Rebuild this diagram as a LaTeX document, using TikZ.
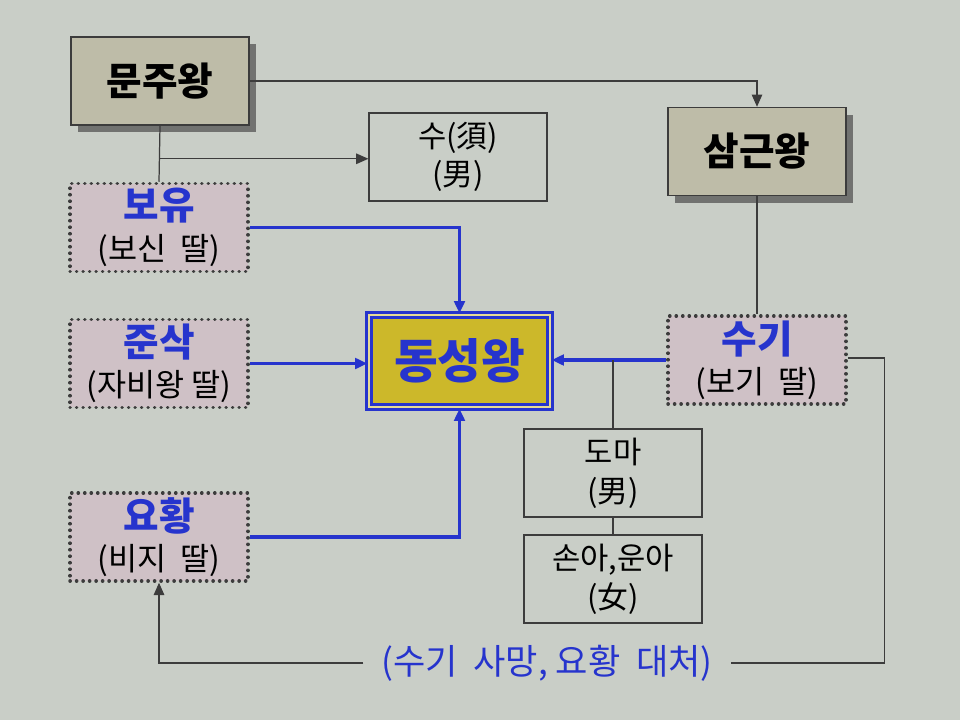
\documentclass[tikz,border=0pt]{standalone}
\usepackage{fontspec}
\setmainfont{Noto Sans CJK KR}
\usetikzlibrary{arrows.meta,positioning,calc,shadows}

\definecolor{bgcol}{RGB}{201,206,199}
\definecolor{kingcol}{RGB}{190,188,168}
\definecolor{queencol}{RGB}{207,193,198}
\definecolor{goldcol}{RGB}{204,184,42}
\definecolor{royalblue}{RGB}{38,52,205}
\definecolor{linecol}{RGB}{60,60,60}

\begin{document}
\begin{tikzpicture}[x=0.02cm,y=-0.02cm,
  >={Triangle[length=7pt,width=6pt]},
  box/.style={minimum width=3.56cm,minimum height=1.76cm,align=center,inner sep=2pt},
  king/.style={box,draw=linecol,line width=0.8pt,fill=kingcol,font=\fontsize{22}{26}\selectfont\bfseries,
    drop shadow={shadow xshift=4pt,shadow yshift=-4pt,fill=gray!60!black,opacity=0.7}},
  queen/.style={box,draw=linecol,fill=queencol,line width=2pt,dash pattern=on 0.1pt off 3.6pt,line cap=round,
    font=\fontsize{18}{23}\selectfont},
  child/.style={box,draw=linecol,line width=0.7pt,font=\fontsize{17.5}{22}\selectfont},
  link/.style={draw=linecol,line width=0.7pt},
  bluelink/.style={draw=royalblue,line width=1.8pt}]
  % background
  \fill[bgcol] (0,0) rectangle (960,720);
  \useasboundingbox (0,0) rectangle (960,720);

  % kings
  \node[king] (munju) at (160,81) {문주왕};
  \node[king] (samgeun) at (757,151.5) {삼근왕};
  \node[box,draw=royalblue,line width=1.8pt,double=goldcol!50!white,double distance=1.2pt,fill=goldcol,
    minimum width=3.62cm,minimum height=1.84cm,text=royalblue,font=\fontsize{27}{30}\selectfont\bfseries] (dongseong) at (459.5,361) {동성왕};

  % queens
  \node[queen] (boyu) at (159,227.5) {\textcolor{royalblue}{\fontsize{22}{25}\selectfont\bfseries 보유}\\(보신~~딸)};
  \node[queen] (junsak) at (159,363.5) {\textcolor{royalblue}{\fontsize{22}{25}\selectfont\bfseries 준삭}\\(자비왕~딸)};
  \node[queen] (yohwang) at (159,537) {\textcolor{royalblue}{\fontsize{22}{25}\selectfont\bfseries 요황}\\(비지~~딸)};
  \node[queen] (sugi) at (757,360) {\textcolor{royalblue}{\fontsize{22}{25}\selectfont\bfseries 수기}\\(보기~~딸)};

  % children
  \node[child] (su) at (458,157) {수(須)\\(男)};
  \node[child] (doma) at (613,473) {도마\\(男)};
  \node[child] (sona) at (613,579) {손아,운아\\(女)};

  % note
  \node[text=royalblue,font=\fontsize{20}{24}\selectfont,inner xsep=10pt] (note) at (547,663) {(수기~~사망,~요황~~대처)};

  % connectors
  \draw[link,->] (munju.east) -- (munju.east -| samgeun.north) -- (samgeun.north);
  \draw[link] (munju.south) -- (boyu.north);
  \coordinate (subranch) at ($(munju.south)!0.59!(boyu.north)$);
  \draw[link,->] (subranch) -- (subranch -| su.west);
  \draw[link] (samgeun.south) -- (sugi.north);
  \draw[bluelink,->] (boyu.east) -| (dongseong.north);
  \draw[bluelink,->] (junsak.east) -- (junsak.east -| dongseong.west);
  \draw[bluelink,->] (yohwang.east) -| (dongseong.south);
  \draw[bluelink,->] (sugi.west) -- (sugi.west -| dongseong.east);
  \coordinate (domabranch) at (sugi.west -| doma.north);
  \draw[link] (domabranch) -- (doma.north);
  \draw[link] (doma.south) -- (sona.north);
  \draw[link] ($(sugi.east)+(0,-2)$) -- ++(37,0) |- (note.east);
  \draw[link,->] (note.west) -| (yohwang.south);
\end{tikzpicture}
\end{document}
